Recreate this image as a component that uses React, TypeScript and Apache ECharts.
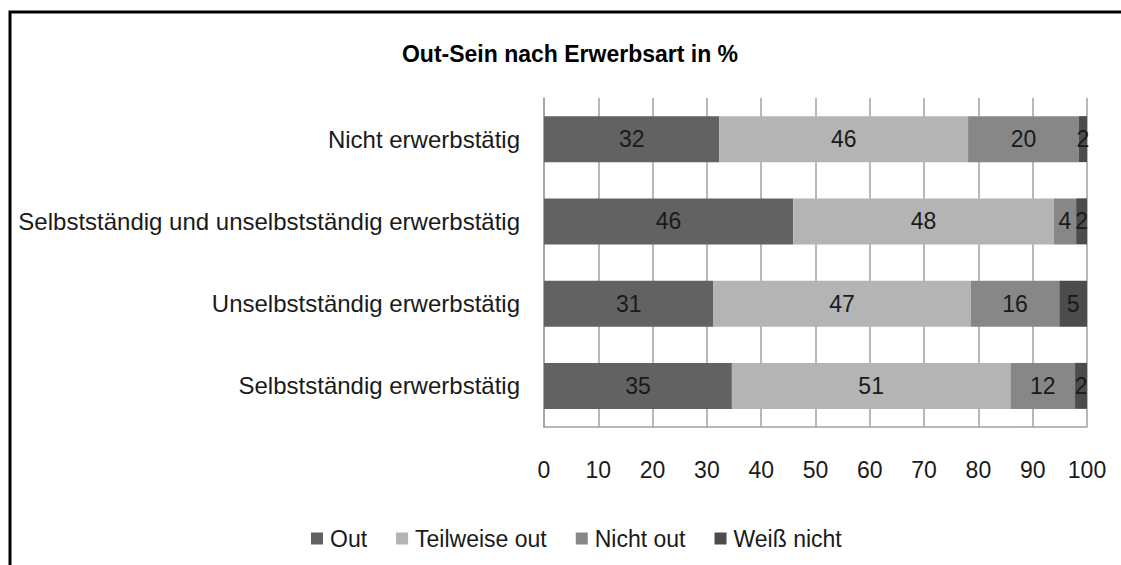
import React, { useEffect, useRef } from "react";
import * as echarts from "echarts";

const categories = [
  "Nicht erwerbstätig",
  "Selbstständig und unselbstständig erwerbstätig",
  "Unselbstständig erwerbstätig",
  "Selbstständig erwerbstätig",
];
const seriesNames = ["Out", "Teilweise out", "Nicht out", "Weiß nicht"];
const outValues = [32.3, 45.9, 31.2, 34.6];
const teilweiseValues = [45.8, 48.0, 47.4, 51.3];
const nichtOutValues = [20.4, 4.1, 16.3, 11.9];
const weissNichtValues = [1.5, 2.0, 5.1, 2.2];
const xTicks = [0, 10, 20, 30, 40, 50, 60, 70, 80, 90, 100];
const colors = ["#626262", "#b4b4b4", "#878787", "#4c4c4c"];

const FONT = "'Liberation Sans', 'DejaVu Sans', sans-serif";

export default function App() {
  const ref = useRef<HTMLDivElement>(null);
  useEffect(() => {
    if (!ref.current) return;
    const chart = echarts.init(ref.current, undefined, { renderer: "svg" });
    const all = [outValues, teilweiseValues, nichtOutValues, weissNichtValues];
    chart.setOption({
      animation: false,
      backgroundColor: "#ffffff",
      textStyle: { fontFamily: FONT },
      title: {
        text: "Out-Sein nach Erwerbsart in %",
        left: 565,
        textAlign: "center",
        top: 37,
        textStyle: { fontSize: 23, fontWeight: "bold", color: "#000", fontFamily: FONT },
      },
      graphic: [
        {
          type: "rect",
          shape: { x: 10, y: 12, width: 1200, height: 700 },
          style: { fill: "none", stroke: "#000", lineWidth: 3 },
          silent: true,
        },
      ],
      legend: {
        data: seriesNames,
        left: 306,
        top: 522,
        itemWidth: 12,
        itemHeight: 12,
        itemGap: 29,
        icon: "rect",
        textStyle: { fontSize: 23, color: "#1a1a1a", fontFamily: FONT, padding: [0, 0, 0, 2] },
      },
      grid: { left: 544, right: 34, top: 98, height: 329, containLabel: false },
      xAxis: {
        type: "value",
        min: 0,
        max: 100,
        interval: 10,
        axisLine: { show: true, lineStyle: { color: "#a0a0a0", width: 1.5 } },
        axisTick: { show: false },
        splitLine: { show: true, lineStyle: { color: "#a0a0a0", width: 1.5 } },
        axisLabel: {
          margin: 31,
          fontSize: 23,
          color: "#1a1a1a",
          fontFamily: FONT,
          formatter: (v: number) => (xTicks.includes(v) ? String(v) : ""),
        },
      },
      yAxis: {
        type: "category",
        data: categories,
        inverse: true,
        axisLine: { show: true, lineStyle: { color: "#a0a0a0", width: 1.5 } },
        axisTick: { show: false },
        axisLabel: { margin: 24, fontSize: 24, color: "#1a1a1a", fontFamily: FONT },
      },
      series: seriesNames.map((name, i) => ({
        name,
        type: "bar",
        stack: "total",
        data: all[i],
        barWidth: 46,
        itemStyle: { color: colors[i] },
        label: {
          show: true,
          position: "inside",
          fontSize: 23,
          color: "#1a1a1a",
          fontFamily: FONT,
          formatter: (p: any) => String(Math.round(p.value)),
        },
      })),
    });
    return () => chart.dispose();
  }, []);
  return (
    <div
      ref={ref}
      style={{ position: "fixed", left: 0, top: 0, width: 1121, height: 565 }}
    />
  );
}
